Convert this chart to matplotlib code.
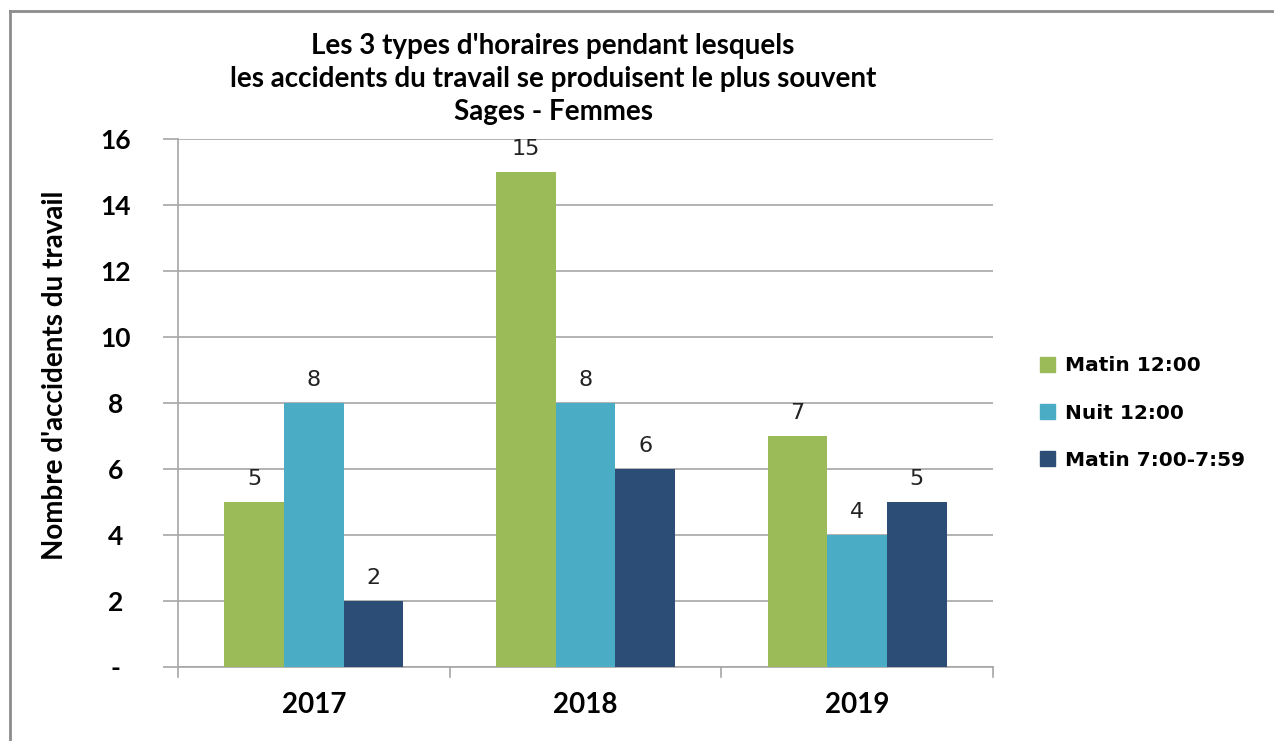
import numpy as np
import matplotlib
matplotlib.use("Agg")
import matplotlib.pyplot as plt
from matplotlib.lines import Line2D

years = ["2017", "2018", "2019"]
series_names = ["Matin 12:00", "Nuit 12:00", "Matin 7:00-7:59"]
matin_12 = [5, 15, 7]
nuit_12 = [8, 8, 4]
matin_7 = [2, 6, 5]
colors = ["#9BBB59", "#4BACC6", "#2C4D75"]
yticks = [0, 2, 4, 6, 8, 10, 12, 14, 16]
ytick_labels = ["-", "2", "4", "6", "8", "10", "12", "14", "16"]

title = ("Les 3 types d'horaires pendant lesquels\n"
         "les accidents du travail se produisent le plus souvent\n"
         "Sages - Femmes")

fig = plt.figure(figsize=(12.74, 7.41), dpi=100)
ax = fig.add_axes([178 / 1274, 1 - 667 / 741, (993 - 178) / 1274, (667 - 139) / 741])

x = np.arange(len(years))
w = 0.22
for i, (vals, name) in enumerate(zip([matin_12, nuit_12, matin_7], series_names)):
    pos = x + (i - 1) * w
    bars = ax.bar(pos, vals, width=w, color=colors[i], label=name, zorder=3)
    for b, v in zip(bars, vals):
        ax.text(b.get_x() + b.get_width() / 2, v + 0.4, str(v),
                ha="center", va="bottom", fontsize=16, family="DejaVu Sans",
                color="#222222")

ax.set_xlim(-0.5, len(years) - 0.5)
ax.set_ylim(0, 16)
ax.set_yticks(yticks)
ax.set_yticklabels(ytick_labels, fontsize=19, fontweight="bold", family="Lato")
ax.yaxis.grid(True, color="#A6A6A6", linewidth=1.2, zorder=0)
ax.tick_params(axis="y", length=11, color="#A6A6A6", width=1.2, pad=34)
for lbl in ax.get_yticklabels():
    lbl.set_horizontalalignment("center")

# category boundary ticks on x
ax.set_xticks(x)
ax.set_xticklabels(years, fontsize=20, fontweight="bold", family="Lato")
ax.tick_params(axis="x", length=0, pad=18)
for xb in np.arange(-0.5, len(years), 1.0):
    ax.plot([xb, xb], [0, -0.3], color="#A6A6A6", linewidth=1.2,
            clip_on=False, zorder=4)

for s in ["top", "right"]:
    ax.spines[s].set_visible(False)
ax.spines["left"].set_color("#A6A6A6")
ax.spines["bottom"].set_color("#A6A6A6")
ax.spines["left"].set_linewidth(1.2)
ax.spines["bottom"].set_linewidth(1.2)

ax.set_ylabel("Nombre d'accidents du travail", fontsize=20, fontweight="bold",
              family="Lato")
ax.yaxis.set_label_coords((68 - 178) / 815, (667 - 375) / 528)

fig.text(553 / 1274, 1 - 79 / 741, title, ha="center", va="center",
         fontsize=20, fontweight="bold", family="Lato", linespacing=1.33)

handles = [plt.Rectangle((0, 0), 1, 1, color=c) for c in colors]
leg = fig.legend(handles, series_names, loc="center left",
                 bbox_to_anchor=(1032 / 1274, 1 - 413 / 741), frameon=False,
                 prop={"family": "DejaVu Sans", "weight": "bold", "size": 14.5},
                 handlelength=0.75, handleheight=0.75, handletextpad=0.5,
                 labelspacing=1.4, borderaxespad=0)

# outer chart border (left and top)
fig.add_artist(Line2D([10 / 1274, 10 / 1274], [0, 1 - 11 / 741],
                      transform=fig.transFigure, color="#8C8C8C", linewidth=2))
fig.add_artist(Line2D([10 / 1274, 1], [1 - 11 / 741, 1 - 11 / 741],
                      transform=fig.transFigure, color="#8C8C8C", linewidth=2))

fig.savefig("out.png", dpi=100)
